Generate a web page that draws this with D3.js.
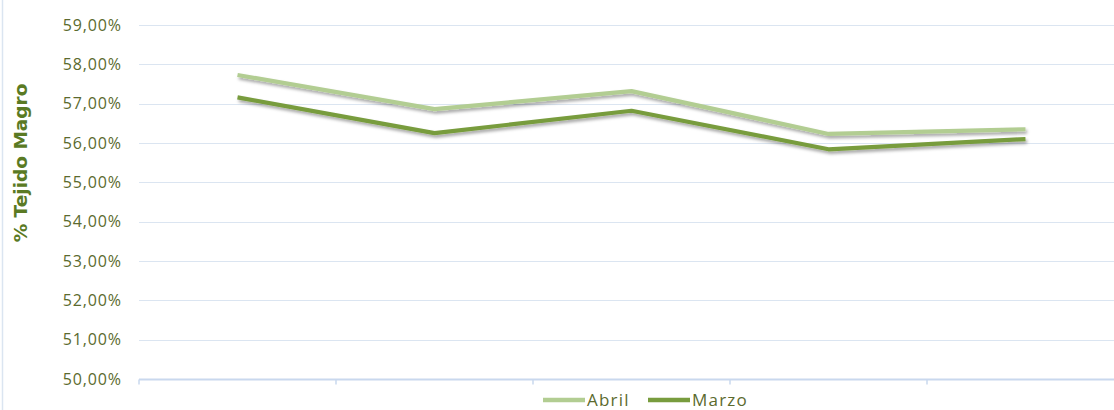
<!DOCTYPE html>
<html><head><meta charset="utf-8">
<script src="https://cdn.jsdelivr.net/npm/d3@7/dist/d3.min.js"></script>
<style>body{margin:0;background:#fff;}svg{display:block;}</style>
</head><body><svg id="c" width="1114" height="410"></svg>
<script>
const categories = ["C1","C2","C3","C4","C5"];
const abril = [57.73, 56.86, 57.32, 56.23, 56.35];
const marzo = [57.16, 56.25, 56.82, 55.84, 56.10];
const yTicks = [50,51,52,53,54,55,56,57,58,59];
const seriesNames = ["Abril","Marzo"];
const colors = ["#b2cd92","#789c3e"];

const svg = d3.select("#c");
const x = d3.scaleBand().domain(categories).range([139, 139+197*5]);
const y = d3.scaleLinear().domain([50,59]).range([379,25]);

const defs = svg.append("defs");
const f = defs.append("filter").attr("id","sh").attr("x","-10%").attr("y","-50%").attr("width","120%").attr("height","200%");
f.append("feDropShadow").attr("dx",1.5).attr("dy",2.5).attr("stdDeviation",1.5).attr("flood-color","#000").attr("flood-opacity",0.35);

// border left
svg.append("line").attr("x1",2.5).attr("x2",2.5).attr("y1",0).attr("y2",410).attr("stroke","#dbe5f1").attr("stroke-width",1.5);

// gridlines
svg.append("g").selectAll("line").data(yTicks.filter(d=>d>50)).join("line")
  .attr("x1",139).attr("x2",1114).attr("y1",d=>Math.round(y(d))+0.5).attr("y2",d=>Math.round(y(d))+0.5)
  .attr("stroke","#dbe5f1").attr("stroke-width",1.2);

// x axis
const xa = svg.append("g").attr("transform",`translate(0,${Math.round(y(50))+0.5})`);
xa.append("line").attr("x1",139).attr("x2",1114).attr("stroke","#c9d8ee").attr("stroke-width",2);
const bounds = categories.map(c=>x(c)).concat([x(categories[4])+x.bandwidth()]);
xa.selectAll("line.t").data(bounds).join("line").attr("class","t")
  .attr("x1",d=>d).attr("x2",d=>d).attr("y1",0).attr("y2",5).attr("stroke","#c9d8ee").attr("stroke-width",1.5);

// y labels
svg.append("g").selectAll("text").data(yTicks).join("text")
  .attr("x",122).attr("y",d=>y(d)).attr("dy","0.36em").attr("text-anchor","end")
  .attr("font-family","'Open Sans', 'DejaVu Sans', sans-serif").attr("font-size",16).attr("letter-spacing",0.9).attr("fill","#5b6a2e")
  .text(d=>d.toFixed(2).replace(".",",")+"%");

// y title
svg.append("text").attr("transform","translate(27,163) rotate(-90)").attr("text-anchor","middle")
  .attr("font-family","'DejaVu Sans', sans-serif").attr("font-weight","bold").attr("font-size",18.5).attr("fill","#5a7a24")
  .text("% Tejido Magro");

const line = d3.line().x((d,i)=>x(categories[i])+x.bandwidth()/2).y(d=>y(d));
[abril, marzo].forEach((s,i)=>{
  svg.append("path").datum(s).attr("d",line).attr("fill","none").attr("stroke",colors[i])
    .attr("stroke-width",4.2).attr("stroke-linejoin","round").attr("filter","url(#sh)");
});

// legend
const lg = svg.append("g").attr("transform","translate(543,400)");
const items = [{n:"Abril",c:colors[0],x:0},{n:"Marzo",c:colors[1],x:105}];
items.forEach(it=>{
  lg.append("line").attr("x1",it.x).attr("x2",it.x+42).attr("y1",0).attr("y2",0).attr("stroke",it.c).attr("stroke-width",4.5);
  lg.append("text").attr("x",it.x+44).attr("y",6)
    .attr("font-family","'Open Sans', 'DejaVu Sans', sans-serif").attr("font-size",17).attr("letter-spacing",1.2).attr("fill","#5b6a2e").text(it.n);
});
</script></body></html>
